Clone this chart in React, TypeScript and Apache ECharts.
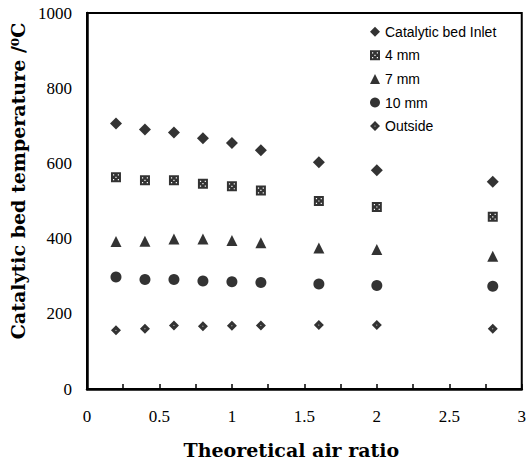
import React, { useEffect, useRef } from "react";
import * as echarts from "echarts";

const airRatio = [0.2, 0.4, 0.6, 0.8, 1.0, 1.2, 1.6, 2.0, 2.8];
const inletTemp = [706, 690, 682, 667, 654, 635, 603, 582, 551];
const mm4Temp = [563, 555, 555, 546, 539, 528, 500, 484, 458];
const mm7Temp = [392, 393, 399, 399, 395, 389, 375, 371, 353];
const mm10Temp = [298, 291, 291, 287, 285, 283, 279, 275, 273];
const outsideTemp = [156, 160, 169, 167, 168, 169, 170, 170, 160];
const seriesNames = ["Catalytic bed Inlet", "4 mm", "7 mm", "10 mm", "Outside"];
const yTicks = [0, 200, 400, 600, 800, 1000];

const hatchSquare =
  "path://M0 0 H10 V10 H0 Z M2 2 V3.2 H3.2 V2 Z M6.8 2 V3.2 H8 V2 Z M2 6.8 V8 H3.2 V6.8 Z M6.8 6.8 V8 H8 V6.8 Z M4.4 4.4 V5.6 H5.6 V4.4 Z";
const dotDiamond =
  "path://M5 0 L10 5 L5 10 L0 5 Z M5 4.4 L4.4 5 L5 5.6 L5.6 5 Z";

export default function App() {
  const ref = useRef<HTMLDivElement>(null);
  useEffect(() => {
    if (!ref.current) return;
    document.body.style.margin = "0";
    const chart = echarts.init(ref.current, null, { renderer: "svg" });
    const mk = (i: number, data: number[], symbol: string, size: number) => ({
      name: seriesNames[i],
      type: "scatter",
      symbol,
      symbolSize: size,
      itemStyle: { color: "#000" },
      data: airRatio.map((x, k) => [x, data[k]]),
    });
    chart.setOption({
      animation: false,
      backgroundColor: "#fff",
      grid: {
        left: 87,
        right: 7,
        top: 13,
        bottom: 77,
        show: true,
        borderColor: "#000",
        borderWidth: 2,
      },
      legend: {
        orient: "vertical",
        left: 370,
        top: 24.7,
        padding: 0,
        itemWidth: 10,
        itemHeight: 10,
        itemGap: 9.6,
        textStyle: { fontFamily: "Liberation Sans", fontSize: 14, lineHeight: 12, color: "#000" },
        data: seriesNames,
      },
      xAxis: {
        type: "value",
        min: 0,
        max: 3,
        interval: 0.25,
        splitLine: { show: false },
        axisLine: { lineStyle: { color: "#000", width: 2.5 } },
        axisTick: { inside: true, length: 5, lineStyle: { color: "#000", width: 1.5 } },
        axisLabel: {
          margin: 19,
          fontFamily: "Liberation Serif",
          fontSize: 17,
          color: "#000",
          formatter: (v: number) =>
            Math.abs(v * 2 - Math.round(v * 2)) < 1e-6 ? String(v) : "",
        },
        name: "Theoretical air ratio",
        nameLocation: "middle",
        nameGap: 51,
        nameTextStyle: {
          fontFamily: "DejaVu Serif",
          fontWeight: "bold",
          fontSize: 19,
          color: "#000",
          padding: [0, 26, 0, 0],
        },
      },
      yAxis: {
        type: "value",
        min: yTicks[0],
        max: yTicks[yTicks.length - 1],
        interval: 200,
        splitLine: { show: false },
        axisLine: { lineStyle: { color: "#000", width: 2.5 } },
        axisTick: { show: false },
        axisLabel: {
          margin: 15,
          fontFamily: "Liberation Serif",
          fontSize: 17,
          color: "#000",
          formatter: (v: number) => String(v),
        },
      },
      graphic: [
        {
          type: "text",
          x: 18,
          y: 181,
          rotation: Math.PI / 2,
          style: {
            text: "Catalytic bed temperature /\u2070C",
            fontFamily: "DejaVu Serif",
            fontWeight: "bold",
            fontSize: 19,
            fill: "#000",
            align: "center",
            verticalAlign: "middle",
          },
        },
      ],
      series: [
        mk(0, inletTemp, "diamond", 12),
        mk(1, mm4Temp, hatchSquare, 10),
        mk(2, mm7Temp, "triangle", 11),
        mk(3, mm10Temp, "circle", 11),
        mk(4, outsideTemp, dotDiamond, 10),
      ],
    });
    return () => chart.dispose();
  }, []);
  return <div ref={ref} style={{ width: 529, height: 466 }} />;
}
